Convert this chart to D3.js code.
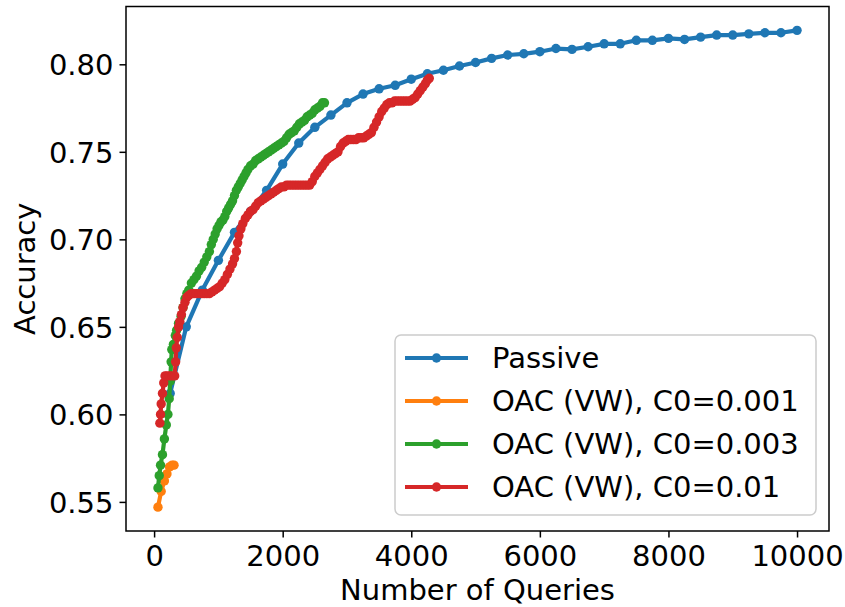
<!DOCTYPE html>
<html>
<head>
<meta charset="utf-8">
<script src="https://cdn.jsdelivr.net/npm/d3@7"></script>
<style>
  html, body { margin: 0; padding: 0; background: #fff; }
  svg { display: block; font-family: "DejaVu Sans", sans-serif; }
</style>
</head>
<body>
<svg id="chart" width="845" height="607"></svg>
<script>
// ---------- data ----------
const seriesNames = ["Passive", "OAC (VW), C0=0.001", "OAC (VW), C0=0.003", "OAC (VW), C0=0.01"];
const seriesColors = ["#1f77b4", "#ff7f0e", "#2ca02c", "#d62728"];

const passiveX = [250,500,750,1000,1250,1500,1750,2000,2250,2500,2750,3000,3250,3500,3750,4000,4250,4500,4750,5000,
  5250,5500,5750,6000,6250,6500,6750,7000,7250,7500,7750,8000,8250,8500,8750,9000,9250,9500,9750,10000];
const passiveY = [0.612,0.650,0.671,0.688,0.704,0.716,0.728,0.743,0.755,0.764,0.771,0.778,0.783,0.786,0.788,0.7915,0.7946,0.7966,0.799,0.801,
  0.8034,0.8053,0.806,0.8072,0.809,0.8085,0.810,0.8117,0.8117,0.8137,0.8137,0.8148,0.8142,0.8155,0.8167,0.8167,0.8174,0.818,0.818,0.8194];

const oac001X = [60,110,160,200,240,280,310];
const oac001Y = [0.547,0.556,0.562,0.566,0.570,0.571,0.571];

const oac003X = [60,80,100,130,160,190,215,235,250,265,275,300,330,350,380,420,450,480,510,540,580,620,660,700,740,780,820,860,890,920,
  950,980,1010,1040,1070,1100,1130,1160,1190,1220,1250,1280,1310,1340,1370,1400,1430,1460,1500,1540,1580,1620,1660,1700,1740,1780,1820,1860,1900,1940,
  1980,2020,2060,2100,2140,2180,2220,2260,2300,2340,2380,2420,2460,2500,2540,2580,2620,2650];
const oac003Y = [0.558,0.565,0.571,0.577,0.586,0.594,0.600,0.609,0.619,0.630,0.637,0.640,0.645,0.648,0.652,0.656,0.661,0.666,0.669,0.671,0.675,0.677,0.679,0.682,0.684,0.687,0.690,0.693,0.697,0.700,
  0.703,0.706,0.708,0.710,0.711,0.713,0.716,0.718,0.720,0.722,0.725,0.728,0.730,0.732,0.734,0.736,0.738,0.740,0.742,0.743,0.745,0.746,0.747,0.748,0.749,0.750,0.751,0.752,0.753,0.754,
  0.755,0.756,0.758,0.760,0.761,0.762,0.764,0.766,0.767,0.768,0.770,0.771,0.772,0.774,0.775,0.776,0.778,0.778];

const oac01X = [90,100,110,130,150,170,200,240,280,320,335,345,360,380,400,425,450,480,510,540,580,620,660,700,740,780,820,860,900,940,
  980,1020,1060,1100,1140,1180,1220,1250,1280,1300,1320,1350,1380,1420,1460,1500,1540,1580,1620,1660,1700,1740,1780,1820,1860,1900,1940,1980,2020,2060,
  2100,2140,2180,2220,2260,2300,2340,2380,2420,2460,2500,2540,2580,2620,2660,2700,2740,2780,2820,2860,2900,2940,2980,3020,3060,3100,3140,3180,3220,3260,
  3300,3340,3380,3420,3460,3500,3540,3580,3620,3660,3700,3740,3780,3820,3860,3900,3940,3980,4020,4060,4100,4140,4180,4220,4250,4280];
const oac01Y = [0.595,0.600,0.606,0.612,0.618,0.622,0.622,0.622,0.622,0.622,0.630,0.638,0.644,0.650,0.653,0.657,0.661,0.664,0.667,0.668,0.669,0.669,0.669,0.669,0.669,0.669,0.669,0.669,0.670,0.671,
  0.672,0.673,0.675,0.677,0.680,0.683,0.686,0.689,0.693,0.698,0.702,0.706,0.709,0.712,0.714,0.716,0.717,0.719,0.721,0.722,0.723,0.724,0.725,0.726,0.727,0.728,0.729,0.730,0.730,0.731,
  0.731,0.731,0.731,0.731,0.731,0.731,0.731,0.731,0.731,0.733,0.736,0.738,0.740,0.742,0.744,0.746,0.747,0.748,0.749,0.750,0.753,0.755,0.756,0.757,0.757,0.757,0.757,0.758,0.758,0.758,
  0.759,0.760,0.761,0.764,0.767,0.770,0.773,0.775,0.777,0.778,0.778,0.779,0.779,0.779,0.779,0.779,0.779,0.779,0.780,0.781,0.783,0.785,0.787,0.789,0.791,0.792];

const xTicks = [0,2000,4000,6000,8000,10000];
const yTicks = [0.55,0.60,0.65,0.70,0.75,0.80];
const xLabel = "Number of Queries";
const yLabel = "Accuracy";

// ---------- layout ----------
const svg = d3.select("#chart");
const plotL = 126, plotR = 829, plotT = 6.5, plotB = 531;
const FS = 29;
const LW = 4.2, MR = 4.7;

const allSeries = [
  {x: passiveX, y: passiveY},
  {x: oac001X, y: oac001Y},
  {x: oac003X, y: oac003Y},
  {x: oac01X, y: oac01Y}
].map((s, i) => ({name: seriesNames[i], color: seriesColors[i], pts: s.x.map((v, j) => [v, s.y[j]])}));

const allX = allSeries.flatMap(s => s.pts.map(p => p[0]));
const allY = allSeries.flatMap(s => s.pts.map(p => p[1]));
const [x0, x1] = d3.extent(allX), [y0, y1] = d3.extent(allY);
const mx = (x1 - x0) * 0.05, my = (y1 - y0) * 0.05;

const x = d3.scaleLinear().domain([x0 - mx, x1 + mx]).range([plotL, plotR]);
const y = d3.scaleLinear().domain([y0 - my, y1 + my]).range([plotB, plotT]);

// ---------- series ----------
const line = d3.line().x(d => x(d[0])).y(d => y(d[1]));
const plot = svg.append("g");
allSeries.forEach(s => {
  const g = plot.append("g");
  g.append("path").attr("d", line(s.pts)).attr("fill", "none")
    .attr("stroke", s.color).attr("stroke-width", LW).attr("stroke-linejoin", "round");
  g.selectAll("circle").data(s.pts).join("circle")
    .attr("cx", d => x(d[0])).attr("cy", d => y(d[1])).attr("r", MR).attr("fill", s.color);
});

// ---------- axes ----------
const xAxis = svg.append("g").attr("transform", `translate(0,${plotB})`)
  .call(d3.axisBottom(x).tickValues(xTicks).tickFormat(d3.format("d")).tickSize(6.5).tickPadding(6).tickSizeOuter(0));
const yAxis = svg.append("g").attr("transform", `translate(${plotL},0)`)
  .call(d3.axisLeft(y).tickValues(yTicks).tickFormat(d3.format(".2f")).tickSize(6.5).tickPadding(6).tickSizeOuter(0));
[xAxis, yAxis].forEach(a => {
  a.select(".domain").remove();
  a.selectAll(".tick line").attr("stroke", "#000").attr("stroke-width", 1.5);
  a.selectAll(".tick text").attr("fill", "#000").style("font-size", FS + "px").style("font-family", "DejaVu Sans");
});
xAxis.selectAll(".tick text").attr("dy", "0.76em");
yAxis.selectAll(".tick text").attr("dy", "0.36em");

// frame
svg.append("rect").attr("x", plotL).attr("y", plotT).attr("width", plotR - plotL).attr("height", plotB - plotT)
  .attr("fill", "none").attr("stroke", "#000").attr("stroke-width", 1.5);

// axis labels
svg.append("text").attr("x", (plotL + plotR) / 2).attr("y", 600).attr("text-anchor", "middle")
  .style("font-size", FS + "px").attr("fill", "#000").text(xLabel);
svg.append("text").attr("transform", `translate(35,${(plotT + plotB) / 2}) rotate(-90)`).attr("text-anchor", "middle")
  .style("font-size", FS + "px").attr("fill", "#000").text(yLabel);

// ---------- legend ----------
const lg = svg.append("g");
lg.append("rect").attr("x", 395).attr("y", 335).attr("width", 421).attr("height", 180).attr("rx", 6)
  .attr("fill", "#fff").attr("fill-opacity", 0.8).attr("stroke", "#cccccc").attr("stroke-width", 1.5);
allSeries.forEach((s, i) => {
  const cy = 358 + i * 43;
  lg.append("line").attr("x1", 405).attr("x2", 468).attr("y1", cy).attr("y2", cy)
    .attr("stroke", s.color).attr("stroke-width", LW);
  lg.append("circle").attr("cx", 436.5).attr("cy", cy).attr("r", MR).attr("fill", s.color);
  lg.append("text").attr("x", 492).attr("y", cy).attr("dy", "0.36em")
    .style("font-size", FS + "px").attr("fill", "#000").text(s.name);
});
</script>
</body>
</html>
